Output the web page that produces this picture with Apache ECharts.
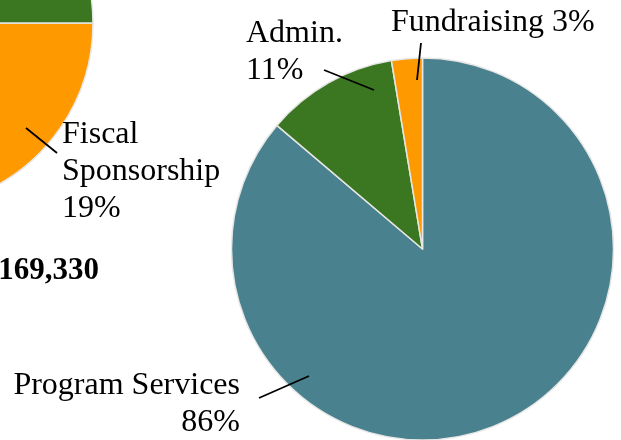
<!DOCTYPE html>
<html>
<head>
<meta charset="utf-8">
<script src="https://cdn.jsdelivr.net/npm/echarts@6/dist/echarts.min.js"></script>
<style>
  html, body { margin: 0; padding: 0; background: #fff; }
  #chart { width: 621px; height: 440px; }
</style>
</head>
<body>
<div id="chart"></div>
<script>
// left pie (revenue) - only part of it is in view
const revenueNames = ["Fiscal Sponsorship", "Other Revenue", "Grants"];
const revenueValues = [19, 56, 25];
const revenueTotal = "169,330";

// right pie (expenses)
const expenseNames = ["Program Services", "Admin.", "Fundraising"];
const expenseValues = [86.2, 11.2, 2.6];

const TEAL = "#49818e";
const GREEN = "#3a7720";
const ORANGE = "#ff9900";
const FONT = "'Liberation Serif', 'Times New Roman', serif";

// where the labels sit and where their leader lines go (label placement only)
const labelPlace = {
  "Fiscal Sponsorship": { text: "Fiscal\nSponsorship\n{d}%", x: 62, y: 116, align: "left", line: [[26, 128], [57, 153]] },
  "Program Services": { text: "Program Services\n{d}%", x: 240, y: 367, align: "right", line: [[259, 398], [309, 376]] },
  "Admin.": { text: "Admin.\n{d}%", x: 246, y: 15, align: "left", line: [[324, 70], [374, 90]] },
  "Fundraising": { text: "Fundraising {d}%", x: 391, y: 4, align: "left", line: [[421, 43], [417, 80]] },
};

const pies = [
  { names: revenueNames, values: revenueValues, colors: [ORANGE, TEAL, GREEN], center: [-92, 23], radius: 185, startAngle: 0 },
  { names: expenseNames, values: expenseValues, colors: [TEAL, GREEN, ORANGE], center: [422.5, 249], radius: 191, startAngle: 90 },
];

// slices
const sliceSeries = pies.map((p) => ({
  type: "pie",
  z: 2,
  center: p.center,
  radius: p.radius,
  startAngle: p.startAngle,
  clockwise: true,
  silent: true,
  label: { show: false },
  labelLine: { show: false },
  itemStyle: { borderColor: "#e6e6e6", borderWidth: 1.5 },
  emphasis: { disabled: true },
  data: p.names.map((name, i) => ({ name: name, value: p.values[i], itemStyle: { color: p.colors[i] } })),
}));

// same pies again, see-through, only to carry labels and leader lines on top of the slices
const labelSeries = pies.map((p) => ({
  type: "pie",
  z: 5,
  center: p.center,
  radius: p.radius,
  startAngle: p.startAngle,
  clockwise: true,
  silent: true,
  percentPrecision: 0,
  avoidLabelOverlap: false,
  itemStyle: { color: "rgba(0,0,0,0)", borderWidth: 0 },
  label: {
    position: "outside",
    color: "#000",
    fontFamily: FONT,
    fontSize: 32,
    lineHeight: 37,
  },
  labelLine: { lineStyle: { color: "#000", width: 1.8 } },
  labelLayout: (params) => {
    const place = labelPlace[p.names[params.dataIndex]];
    if (!place) return {};
    return {
      x: place.x,
      y: place.y,
      align: place.align,
      verticalAlign: "top",
      labelLinePoints: [place.line[0], place.line[0], place.line[1]],
    };
  },
  emphasis: { disabled: true },
  data: p.names.map((name, i) => {
    const place = labelPlace[name];
    return {
      name: name,
      value: p.values[i],
      label: place ? { show: true, formatter: place.text } : { show: false },
      labelLine: { show: !!place },
    };
  }),
}));

const chart = echarts.init(document.getElementById("chart"), null, { renderer: "canvas" });
chart.setOption({
  animation: false,
  backgroundColor: "#ffffff",
  graphic: [
    {
      type: "text",
      right: 522,
      top: 255,
      style: { text: revenueTotal, font: "bold 31px " + FONT, fill: "#000" },
    },
  ],
  series: sliceSeries.concat(labelSeries),
});
</script>
</body>
</html>
